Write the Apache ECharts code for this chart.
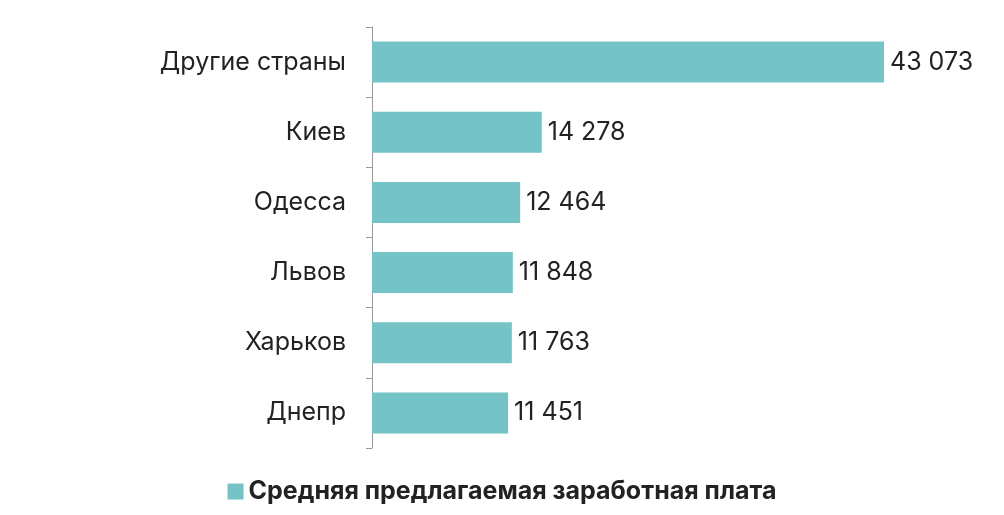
<!DOCTYPE html>
<html><head><meta charset="utf-8">
<script src="https://cdn.jsdelivr.net/npm/echarts@6/dist/echarts.min.js"></script>
<style>html,body{margin:0;padding:0;background:#fff}#c{width:1004px;height:515px}</style>
</head><body><div id="c"></div>
<script>
const categories = ["Днепр","Харьков","Львов","Одесса","Киев","Другие страны"];
const values = [11451,11763,11848,12464,14278,43073];
const seriesName = "Средняя предлагаемая заработная плата";
const fmt = v => String(v).replace(/\B(?=(\d{3})+(?!\d))/g, ' ');
const chart = echarts.init(document.getElementById('c'));
chart.setOption({
  animation:false,
  textStyle:{fontFamily:'Inter, Roboto, sans-serif'},
  grid:{left:372,right:120,top:27,bottom:67},
  xAxis:{type:'value',min:0,max:43073,show:false},
  yAxis:{type:'category',data:categories,
    axisLine:{lineStyle:{color:'#999'}},
    axisTick:{show:true,length:6,lineStyle:{color:'#999'}},
    axisLabel:{fontSize:25,color:'#222',margin:26,padding:[6,0,0,0]}},
  legend:{bottom:6,left:'center',itemWidth:16,itemHeight:16,icon:'rect',itemGap:10,
    textStyle:{fontSize:25,fontWeight:'bold',color:'#222'}},
  series:[{name:seriesName,type:'bar',data:values,barWidth:41,
    itemStyle:{color:'#74c3c6'},
    label:{show:true,position:'right',distance:6,fontSize:25,color:'#222',padding:[10,0,0,0],formatter:p=>fmt(p.value)}}]
});
</script></body></html>
